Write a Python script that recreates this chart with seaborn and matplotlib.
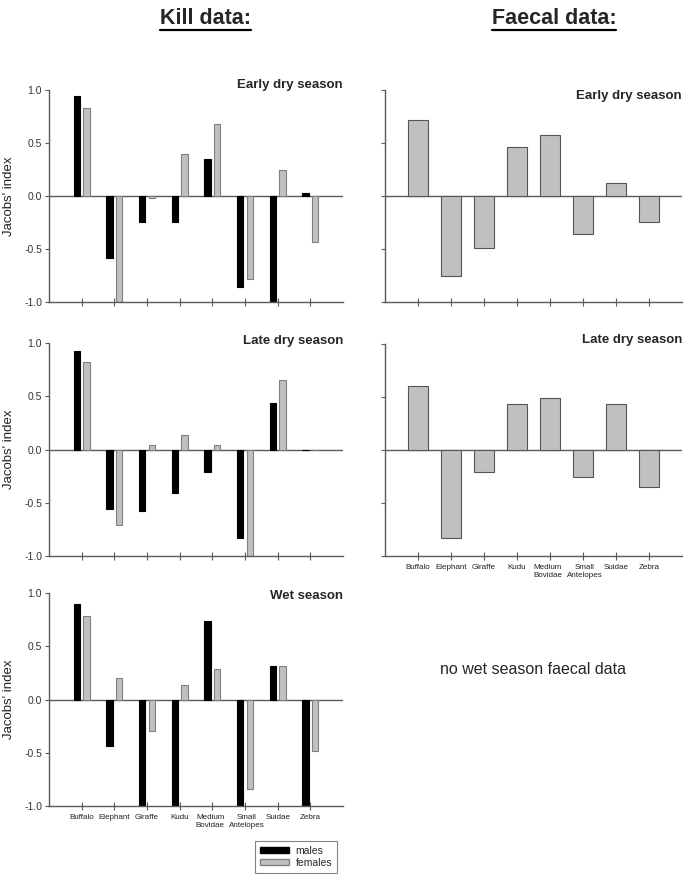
"""
Jacobs' selectivity index per prey type — kill data (by sex) vs faecal data,
split by season. Output: out.png
"""

import matplotlib
matplotlib.use('Agg')
import matplotlib.pyplot as plt
from matplotlib.patches import Patch
from matplotlib.lines import Line2D
from matplotlib.transforms import ScaledTranslation
import pandas as pd
import seaborn as sns

# ── Data ─────────────────────────────────────────────────────────────────────
PREY = ['Buffalo', 'Elephant', 'Giraffe', 'Kudu', 'Medium\nBovidae',
        'Small\nAntelopes', 'Suidae', 'Zebra']

# Kill data — males / females
EARLY_MALES   = [0.945, -0.584, -0.248, -0.242, 0.349, -0.863, -1.0, 0.028]
EARLY_FEMALES = [0.830, -1.0, -0.022, 0.396, 0.681, -0.779, 0.248, -0.433]
LATE_MALES    = [0.926, -0.562, -0.575, -0.408, -0.210, -0.835, 0.436, 0.0]
LATE_FEMALES  = [0.819, -0.706, 0.041, 0.135, 0.041, -1.0, 0.653, 0.0]
WET_MALES     = [0.893, -0.436, -1.0, -1.0, 0.735, -1.0, 0.317, -1.0]
WET_FEMALES   = [0.780, 0.204, -0.295, 0.132, 0.283, -0.843, 0.317, -0.484]

# Faecal data
FAECAL_EARLY = [0.716, -0.753, -0.493, 0.458, 0.580, -0.355, 0.126, -0.248]
FAECAL_LATE  = [0.605, -0.832, -0.208, 0.435, 0.491, -0.252, 0.435, -0.353]

YTICKS = [-1.0, -0.5, 0.0, 0.5, 1.0]

# ── Style ────────────────────────────────────────────────────────────────────
sns.set_style('white')
plt.rcParams['font.family'] = ['Liberation Sans', 'DejaVu Sans']
plt.rcParams['axes.unicode_minus'] = False

MALE_C, FEMALE_C = '#000000', '#c0c0c0'
FEMALE_EDGE, FAECAL_EDGE = '#808080', '#555555'
AXIS_C = '#5a5a5a'

W, H = 686, 881
fig = plt.figure(figsize=(W / 100, H / 100), dpi=100)

# nudge the two long two-line labels apart a little (in points)
LABEL_NUDGE = {4: -1.5, 5: 1.2}


def add_axes(x0, x1, ytop, ybot):
    return fig.add_axes([x0 / W, 1 - ybot / H, (x1 - x0) / W, (ybot - ytop) / H])


def style_axes(ax, season, show_xlabels, show_ylabels, title_y):
    ax.set_xlim(-1, 8)
    ax.set_ylim(-1, 1)
    ax.set_yticks(YTICKS)
    ax.set_xticks(range(len(PREY)))
    for s in ['top', 'right']:
        ax.spines[s].set_visible(False)
    for s in ['left', 'bottom']:
        ax.spines[s].set_color(AXIS_C)
        ax.spines[s].set_linewidth(1.0)
    ax.axhline(0, color=AXIS_C, lw=1.0, zorder=0.5)
    ax.tick_params(axis='y', direction='out', length=3, width=0.8,
                   color=AXIS_C, labelsize=7.5, labelcolor='#333333', pad=2,
                   left=True)
    ax.tick_params(axis='x', direction='inout', length=6, width=0.8,
                   color=AXIS_C, labelsize=5.8, labelcolor='#222222', pad=3,
                   bottom=True)
    if show_xlabels:
        ax.set_xticklabels(PREY, linespacing=1.05)
        for i, lab in enumerate(ax.get_xticklabels()):
            if i in LABEL_NUDGE:
                lab.set_transform(lab.get_transform() + ScaledTranslation(
                    LABEL_NUDGE[i] / 72, 0, fig.dpi_scale_trans))
    else:
        ax.set_xticklabels([])
    if show_ylabels:
        ax.set_yticklabels([f'{v:.1f}' for v in YTICKS])
        ax.set_ylabel("Jacobs' index", fontsize=9.5, color='#222222')
        ax.yaxis.set_label_coords(-0.115, 0.5)
    else:
        ax.set_yticklabels([])
        ax.set_ylabel('')
    ax.set_xlabel('')
    ax.text(1.0, title_y, season, transform=ax.transAxes, ha='right',
            va='center', fontsize=9.5, fontweight='bold')


def kill_panel(ax, males, females):
    df = pd.DataFrame({
        'prey':   PREY * 2,
        'sex':    ['males'] * len(PREY) + ['females'] * len(PREY),
        'jacobs': males + females,
    })
    sns.barplot(data=df, x='prey', y='jacobs', hue='sex', order=PREY,
                hue_order=['males', 'females'],
                palette={'males': MALE_C, 'females': FEMALE_C},
                width=0.6, gap=0.36, errorbar=None, legend=False,
                linewidth=0.8, ax=ax)
    for bar in ax.containers[0]:
        bar.set_edgecolor(MALE_C)
    for bar in ax.containers[1]:
        bar.set_edgecolor(FEMALE_EDGE)


def faecal_panel(ax, values):
    df = pd.DataFrame({'prey': PREY, 'jacobs': values})
    sns.barplot(data=df, x='prey', y='jacobs', order=PREY, color=FEMALE_C,
                width=0.62, errorbar=None, edgecolor=FAECAL_EDGE,
                linewidth=0.8, saturation=1, ax=ax)


# ── Left column: kill data ───────────────────────────────────────────────────
ax1 = add_axes(49, 343, 90, 302)
kill_panel(ax1, EARLY_MALES, EARLY_FEMALES)
style_axes(ax1, 'Early dry season', False, True, 1.022)

ax2 = add_axes(49, 343, 343, 556)
kill_panel(ax2, LATE_MALES, LATE_FEMALES)
style_axes(ax2, 'Late dry season', False, True, 1.01)

ax3 = add_axes(49, 343, 593, 806)
kill_panel(ax3, WET_MALES, WET_FEMALES)
style_axes(ax3, 'Wet season', True, True, 0.985)

# ── Right column: faecal data ────────────────────────────────────────────────
ax4 = add_axes(385, 682, 90, 302)
faecal_panel(ax4, FAECAL_EARLY)
style_axes(ax4, 'Early dry season', False, False, 0.97)

ax5 = add_axes(385, 682, 344, 556)
faecal_panel(ax5, FAECAL_LATE)
style_axes(ax5, 'Late dry season', True, False, 1.02)

fig.text(533 / W, 1 - 670 / H, 'no wet season faecal data',
         ha='center', va='center', fontsize=11.5)

# ── Column headings (bold, underlined) ───────────────────────────────────────
headings = [fig.text(205 / W, 1 - 18 / H, 'Kill data:', ha='center',
                     va='center', fontsize=15.5, fontweight='bold'),
            fig.text(554 / W, 1 - 18 / H, 'Faecal data:', ha='center',
                     va='center', fontsize=15.5, fontweight='bold')]
fig.canvas.draw()
renderer = fig.canvas.get_renderer()
for t in headings:
    bb = t.get_window_extent(renderer).transformed(fig.transFigure.inverted())
    yline = bb.y0 - 1.5 / H
    fig.add_artist(Line2D([bb.x0, bb.x1], [yline, yline], color='black',
                          lw=1.6, transform=fig.transFigure))

# ── Legend ───────────────────────────────────────────────────────────────────
handles = [Patch(facecolor=MALE_C, edgecolor=MALE_C, label='males'),
           Patch(facecolor=FEMALE_C, edgecolor=FEMALE_EDGE, label='females')]
leg = fig.legend(handles=handles, loc='center',
                 bbox_to_anchor=(296 / W, 1 - 857 / H), fontsize=7.5,
                 frameon=True, fancybox=False, handlelength=2.8,
                 handleheight=0.5, handletextpad=0.6, labelspacing=0.2,
                 borderpad=0.45, borderaxespad=0)
leg.get_frame().set_edgecolor('#666666')
leg.get_frame().set_linewidth(0.8)

fig.savefig('out.png', dpi=100)
plt.close(fig)
